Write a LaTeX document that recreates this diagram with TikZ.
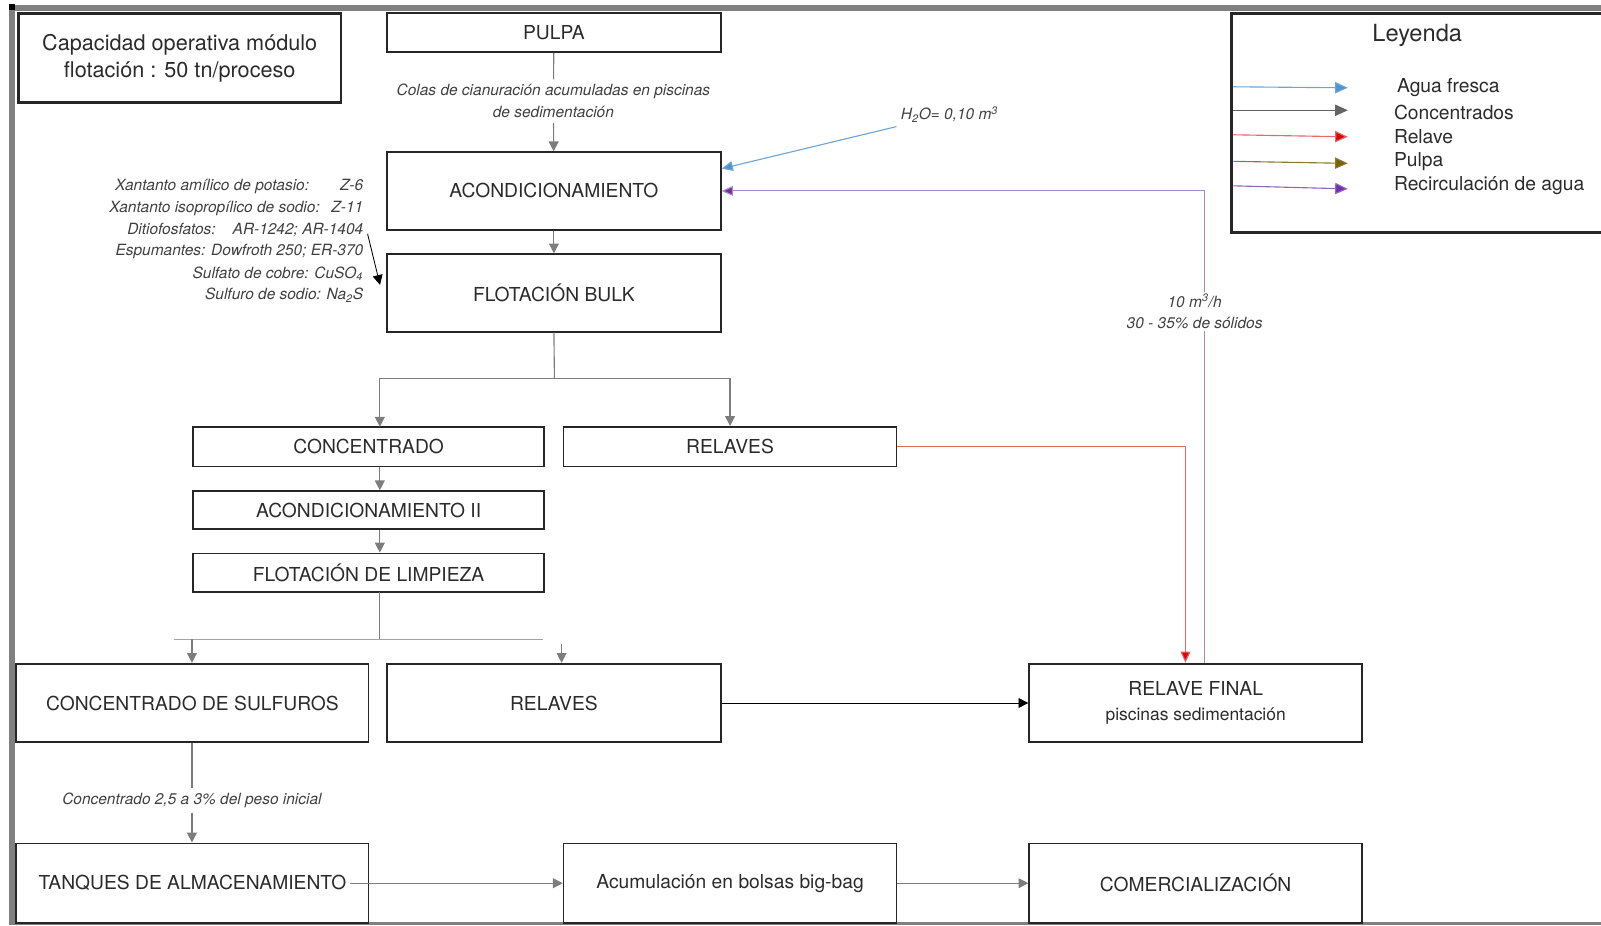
\documentclass[tikz,border=0pt]{standalone}
\usepackage{fontspec}
\setmainfont{TeX Gyre Heros}
\usepackage{xcolor}
\usetikzlibrary{arrows.meta,calc}

\definecolor{marco}{HTML}{808080}
\definecolor{borde}{HTML}{262626}
\definecolor{textocaja}{HTML}{2B2B2B}
\definecolor{gris}{HTML}{7D7D7D}
\definecolor{aguac}{HTML}{6FA5D5}
\definecolor{aguat}{HTML}{4F94CD}
\definecolor{relavec}{HTML}{E46A6A}
\definecolor{relavet}{HTML}{E00000}
\definecolor{pulpac}{HTML}{8C7A2E}
\definecolor{pulpat}{HTML}{7A6000}
\definecolor{recircc}{HTML}{A98BC6}
\definecolor{recirct}{HTML}{7030A0}

\newcommand{\px}{0.02553cm}
\newcommand{\letracaja}{\fontsize{13.7}{16.5}\selectfont}
\newcommand{\letranota}{\fontsize{11}{15.5}\selectfont\itshape}

\begin{document}
\begin{tikzpicture}[x=\px, y=-\px,
    caja/.style={draw=borde, line width=1.2pt, inner sep=0pt, text=textocaja, font=\letracaja, align=center},
    nota/.style={text=textocaja!90, font=\letranota, align=center},
    conector/.style={draw=gris, line width=0.8pt},
    flecha/.style={conector, -{Triangle[length=7pt,width=7pt]}},
    negra/.style={draw=black, line width=0.6pt, -{Triangle[length=7pt,width=7pt]}},
    agua/.style={draw=aguac, line width=0.8pt, -{Triangle[length=8pt,width=7pt,fill=aguat]}},
    relave/.style={draw=relavec, line width=0.8pt, -{Triangle[length=8pt,width=7pt,fill=relavet]}},
    recirc/.style={draw=recircc, line width=0.8pt, -{Triangle[length=8pt,width=7pt,fill=recirct]}},
    leyflecha/.style={line width=0.8pt},
    leytexto/.style={anchor=west, inner sep=0pt, text=textocaja, font=\letracaja}]
    \useasboundingbox (0,0) rectangle (1568,906);
    % marco de la hoja
    \draw[marco, line width=4pt] (10,8) -- (1575,8);
    \draw[marco, line width=4pt] (12,4) -- (12,906);
    \draw[marco, line width=2pt] (10,904.5) -- (1575,904.5);
    \fill[black] (9,4) rectangle (15,10);

    % cajas
    \node[caja, line width=2pt, minimum width=316*\px, minimum height=87*\px, font=\fontsize{15.4}{19}\selectfont] (capacidad) at (176,57) {Capacidad operativa módulo\\flotación : 50 tn/proceso};
    \node[caja, minimum width=327*\px, minimum height=38*\px] (pulpa) at (542.5,32) {PULPA};
    \node[caja, minimum width=327*\px, minimum height=76*\px] (acond) at (542.5,187) {ACONDICIONAMIENTO};
    \node[caja, minimum width=327*\px, minimum height=76*\px] (bulk) at (542.5,287) {FLOTACIÓN BULK};
    \node[caja, minimum width=344*\px, minimum height=39*\px] (conc) at (361,437.5) {CONCENTRADO};
    \node[caja, minimum width=326*\px, minimum height=39*\px] (relA) at (715,437.5) {RELAVES};
    \node[caja, minimum width=344*\px, minimum height=37*\px] (acond2) at (361,499.5) {ACONDICIONAMIENTO II};
    \node[caja, minimum width=344*\px, minimum height=38*\px] (limp) at (361,561) {FLOTACIÓN DE LIMPIEZA};
    \node[caja, minimum width=345*\px, minimum height=77*\px] (sulf) at (188.5,688.5) {CONCENTRADO DE SULFUROS};
    \node[caja, minimum width=327*\px, minimum height=77*\px] (relB) at (542.5,688.5) {RELAVES};
    \node[caja, minimum width=326*\px, minimum height=77*\px, font=\fontsize{13.7}{17.5}\selectfont] (final) at (1171,688.5) {RELAVE FINAL\\{\fontsize{12.4}{17.5}\selectfont piscinas sedimentación}};
    \node[caja, minimum width=345*\px, minimum height=78*\px] (tanq) at (188.5,865) {TANQUES DE ALMACENAMIENTO};
    \node[caja, minimum width=326*\px, minimum height=78*\px] (bolsas) at (715,865) {Acumulación en bolsas big-bag};
    \node[caja, minimum width=326*\px, minimum height=78*\px] (comer) at (1171,865) {COMERCIALIZACIÓN};

    % textos sueltos
    \node[nota] (colas) at (542,99) {Colas de cianuración acumuladas en piscinas\\de sedimentación};
    \node[nota] (hdos) at (930,112) {H\textsubscript{2}O= 0,10 m\textsuperscript{3}};
    \node[nota] (pesoini) at (188,784) {Concentrado 2,5 a 3\% del peso inicial};
    \node[nota, anchor=east, inner sep=0pt] (reac1) at (356,183) {Xantanto amílico de potasio:\hspace{2em}Z-6};
    \node[nota, anchor=east, inner sep=0pt] (reac2) at (356,204) {Xantanto isopropílico de sodio:\hspace{0.75em}Z-11};
    \node[nota, anchor=east, inner sep=0pt] (reac3) at (356,225) {Ditiofosfatos:\hspace{1.1em}AR-1242; AR-1404};
    \node[nota, anchor=east, inner sep=0pt] (reac4) at (356,246) {Espumantes: Dowfroth 250; ER-370};
    \node[nota, anchor=east, inner sep=0pt] (reac5) at (356,268) {Sulfato de cobre: CuSO\textsubscript{4}};
    \node[nota, anchor=east, inner sep=0pt] (reac6) at (356,289) {Sulfuro de sodio: Na\textsubscript{2}S};

    % puntos de paso
    \coordinate (bulkjoin) at (543,371);
    \coordinate (concin) at (372,418);
    \coordinate (limpout) at (372,580);
    \coordinate (limpjoin) at (372,626);
    \coordinate (ramaizq) at (170,626);
    \coordinate (ramader) at (532,626);
    \coordinate (sulfin) at (188,626);
    \coordinate (relBin) at (550,631);
    \coordinate (aguain) at (878,124);
    \coordinate (reacin) at (360,229);

    % conectores grises
    \draw[conector] (pulpa) -- (colas);
    \draw[flecha] (colas) -- (acond);
    \draw[flecha] (acond) -- (bulk);
    \draw[conector] (bulk.south) -- (bulkjoin);
    \draw[flecha] (bulkjoin) -| (concin);
    \draw[flecha] (bulkjoin) -| (relA.north);
    \draw[flecha] (conc.south -| concin) -- (acond2.north -| concin);
    \draw[flecha] (acond2.south -| concin) -- (limp.north -| concin);
    \draw[conector] (limpout) -- (limpjoin);
    \draw[conector, draw=gris!70] (ramaizq) -- (ramader);
    \draw[flecha] (sulfin) -- (sulf.north -| sulfin);
    \draw[flecha] (relBin) -- (relB.north -| relBin);
    \draw[conector] (sulf.south -| sulfin) -- (pesoini);
    \draw[flecha] (pesoini) -- (tanq.north -| sulfin);
    \draw[flecha] ($(tanq.east)+(-19,0)$) -- (bolsas.west);
    \draw[flecha] (bolsas) -- (comer);

    % otros flujos
    \draw[negra] (relB) -- (final);
    \draw[negra] (reacin) -- ($(bulk.west)+(-6,-8)$);
    \draw[agua] (aguain) -- ($(acond.north east)+(0,17)$);
    \draw[relave] (relA.east) -| ($(final.north)+(-10,0)$);
    \draw[recirc] ($(final.north)+(9,0)$) |- (acond.east);
    \node[nota, fill=white, inner sep=1pt] (caudal) at (1170,305) {10 m\textsuperscript{3}/h\\30 - 35\% de sólidos};

    % leyenda
    \node[draw=borde, line width=2pt, minimum width=374*\px, minimum height=215*\px, inner sep=0pt] (leyenda) at (1393,120.5) {};
    \node[text=textocaja, font=\fontsize{16.8}{20}\selectfont] (leytitulo) at (1388,35) {Leyenda};
    \draw[leyflecha, draw=aguac, -{Triangle[length=9pt,width=8pt,fill=aguat]}] (1208,85) -- (1320,86);
    \draw[leyflecha, draw=gris!80!black, -{Triangle[length=9pt,width=8pt]}] (1208,108) -- (1320,108);
    \draw[leyflecha, draw=relavec, -{Triangle[length=9pt,width=8pt,fill=relavet]}] (1208,132) -- (1320,134);
    \draw[leyflecha, draw=pulpac, -{Triangle[length=9pt,width=8pt,fill=pulpat]}] (1208,158) -- (1320,160);
    \draw[leyflecha, draw=recircc!60!recirct, -{Triangle[length=9pt,width=8pt,fill=recirct]}] (1208,182) -- (1320,185);
    \node[leytexto] (ley1) at (1368,86) {Agua fresca};
    \node[leytexto] (ley2) at (1365,110) {Concentrados};
    \node[leytexto] (ley3) at (1365,134) {Relave};
    \node[leytexto] (ley4) at (1365,158) {Pulpa};
    \node[leytexto] (ley5) at (1365,182) {Recirculación de agua};
\end{tikzpicture}
\end{document}
